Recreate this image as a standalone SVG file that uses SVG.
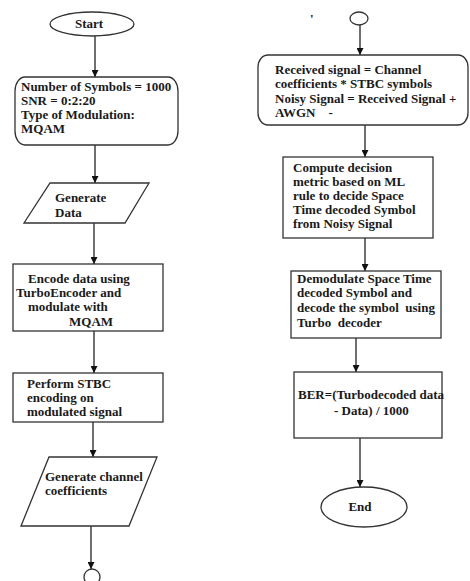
<svg xmlns="http://www.w3.org/2000/svg" width="470" height="581" viewBox="0 0 470 581">
<defs>
<marker id="ah" viewBox="0 0 10 10" refX="10" refY="5" markerWidth="7" markerHeight="7" markerUnits="userSpaceOnUse" orient="auto">
<path d="M0,0 L10,5 L0,10 z" fill="#111"/>
</marker>
<style>
.s{fill:#fff;stroke:#333;stroke-width:1.3}
.t{font-family:"Liberation Serif","Times New Roman",serif;font-weight:bold;font-size:13px;fill:#1a1a1a;white-space:pre}
.c{stroke:#222;stroke-width:1.3;fill:none;marker-end:url(#ah)}
</style>
</defs>
<rect width="470" height="581" fill="#fff"/>
<g id="connectors">
<line class="c" x1="95" y1="36" x2="95" y2="77"/>
<line class="c" x1="95" y1="145" x2="95" y2="183"/>
<line class="c" x1="94" y1="223" x2="94" y2="264"/>
<line class="c" x1="94" y1="331" x2="94" y2="373"/>
<line class="c" x1="93" y1="422" x2="93" y2="457"/>
<line class="c" x1="91" y1="526" x2="91" y2="569"/>
<line class="c" x1="360" y1="25" x2="360" y2="55"/>
<line class="c" x1="365" y1="125" x2="365" y2="157"/>
<line class="c" x1="365" y1="238" x2="365" y2="271"/>
<line class="c" x1="356" y1="338" x2="356" y2="372"/>
<line class="c" x1="360" y1="438" x2="360" y2="487"/>
</g>
<g id="start">
<ellipse class="s" cx="92" cy="24" rx="42" ry="12"/>
<text class="t" x="89" y="28" text-anchor="middle">Start</text>
</g>
<g id="params">
<rect class="s" x="15" y="77" width="163" height="68" rx="10" ry="14"/>
<text class="t" x="21" y="91">Number of Symbols = 1000</text>
<text class="t" x="21" y="104.5">SNR = 0:2:20</text>
<text class="t" x="21" y="118.5">Type of Modulation:</text>
<text class="t" x="21" y="133">MQAM</text>
</g>
<g id="gen-data">
<polygon class="s" points="50,183 149,183 125,223 24,223"/>
<text class="t" x="55" y="202">Generate</text>
<text class="t" x="55" y="217">Data</text>
</g>
<g id="encode">
<rect class="s" x="13" y="264" width="150" height="67"/>
<text class="t" x="28" y="283">Encode data using</text>
<text class="t" x="16" y="297">TurboEncoder and</text>
<text class="t" x="28" y="311">modulate with</text>
<text class="t" x="69" y="326">MQAM</text>
</g>
<g id="stbc">
<rect class="s" x="13" y="373" width="150" height="49"/>
<text class="t" x="27" y="388">Perform STBC</text>
<text class="t" x="27" y="402">encoding on</text>
<text class="t" x="27" y="416">modulated signal</text>
</g>
<g id="gen-channel">
<polygon class="s" points="49,457 157,457 129,526 21,526"/>
<text class="t" x="45" y="481">Generate channel</text>
<text class="t" x="45" y="495">coefficients</text>
</g>
<g id="connector-out">
<circle class="s" cx="92" cy="577" r="8"/>
</g>
<g id="mark">
<text class="t" x="310" y="23" font-size="10">'</text>
</g>
<g id="connector-in">
<ellipse class="s" cx="359" cy="18.5" rx="9" ry="6.5"/>
</g>
<g id="received">
<rect class="s" x="258" y="55" width="210" height="70" rx="10" ry="12"/>
<text class="t" x="275" y="74">Received signal = Channel</text>
<text class="t" x="275" y="88">coefficients * STBC symbols</text>
<text class="t" x="275" y="103">Noisy Signal = Received Signal +</text>
<text class="t" x="275" y="117">AWGN    -</text>
</g>
<g id="compute">
<rect class="s" x="283" y="157" width="150" height="81"/>
<text class="t" x="293" y="172">Compute decision</text>
<text class="t" x="293" y="186">metric based on ML</text>
<text class="t" x="293" y="200">rule to decide Space</text>
<text class="t" x="293" y="214">Time decoded Symbol</text>
<text class="t" x="293" y="228">from Noisy Signal</text>
</g>
<g id="demod">
<rect class="s" x="291" y="271" width="150" height="67"/>
<text class="t" x="297" y="283">Demodulate Space Time</text>
<text class="t" x="297" y="297">decoded Symbol and</text>
<text class="t" x="297" y="312">decode the symbol  using</text>
<text class="t" x="297" y="327">Turbo  decoder</text>
</g>
<g id="ber">
<rect class="s" x="294" y="372" width="148" height="66"/>
<text class="t" x="298" y="399">BER=(Turbodecoded data</text>
<text class="t" x="334" y="415">- Data) / 1000</text>
</g>
<g id="end">
<ellipse class="s" cx="364" cy="507" rx="43" ry="20"/>
<text class="t" x="360" y="511" text-anchor="middle">End</text>
</g>
</svg>
